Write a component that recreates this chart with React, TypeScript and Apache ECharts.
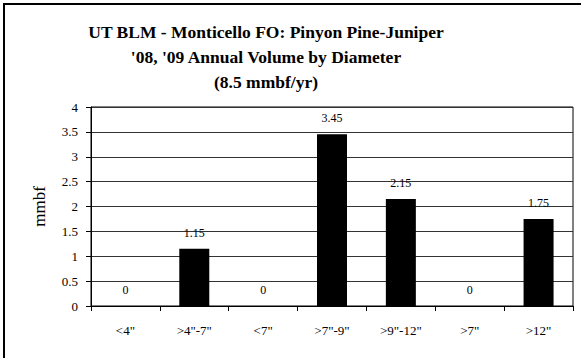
import React, { useEffect, useRef } from "react";
import * as echarts from "echarts";

const categories = ['<4"', '>4"-7"', '<7"', '>7"-9"', '>9"-12"', '>7"', '>12"'];
const volumes = [0, 1.15, 0, 3.45, 2.15, 0, 1.75];
const titleLines = [
  "UT BLM - Monticello FO: Pinyon Pine-Juniper",
  "'08, '09 Annual Volume by Diameter",
  "(8.5 mmbf/yr)",
];
const yAxisName = "mmbf";

const FONT = "'Liberation Serif', 'Times New Roman', serif";

export default function App() {
  const ref = useRef<HTMLDivElement>(null);
  useEffect(() => {
    if (!ref.current) return;
    const chart = echarts.init(ref.current, undefined, { renderer: "svg" });
    chart.setOption({
      animation: false,
      backgroundColor: "#ffffff",
      title: {
        text: titleLines.join("\n"),
        left: 261,
        top: 14,
        textAlign: "center",
        textStyle: {
          fontFamily: FONT,
          fontWeight: "bold",
          fontSize: 17.5,
          lineHeight: 25,
          color: "#000",
        },
      },
      graphic: [
        {
          type: "rect",
          shape: { x: 4, y: 4, width: 700, height: 500 },
          style: { fill: "none", stroke: "#000", lineWidth: 2 },
          silent: true,
        },
      ],
      grid: {
        left: 91,
        right: 8,
        top: 107,
        bottom: 52,
        show: true,
        borderColor: "#000",
        borderWidth: 1,
      },
      xAxis: {
        type: "category",
        data: categories,
        axisLine: { lineStyle: { color: "#000", width: 1 } },
        axisTick: { show: true, length: 5, lineStyle: { color: "#000" } },
        axisLabel: {
          color: "#000",
          fontFamily: FONT,
          fontSize: 13,
          margin: 18,
        },
      },
      yAxis: {
        type: "value",
        min: 0,
        max: 4,
        interval: 0.5,
        name: yAxisName,
        nameLocation: "middle",
        nameGap: 43,
        nameRotate: 90,
        nameTextStyle: { fontFamily: FONT, fontSize: 17, color: "#000" },
        axisLine: { show: true, lineStyle: { color: "#000", width: 1 } },
        axisTick: { show: true, length: 5, lineStyle: { color: "#000" } },
        axisLabel: { color: "#000", fontFamily: FONT, fontSize: 13, margin: 13 },
        splitLine: { show: true, lineStyle: { color: "#333", width: 1 } },
      },
      series: [
        {
          type: "bar",
          data: volumes,
          barWidth: 30,
          itemStyle: { color: "#000" },
          label: {
            show: true,
            position: "top",
            distance: 10,
            color: "#000",
            fontFamily: FONT,
            fontSize: 12,
          },
        },
      ],
    });
    return () => chart.dispose();
  }, []);
  return (
    <div
      ref={ref}
      style={{ position: "fixed", left: 0, top: 0, width: 581, height: 358 }}
    />
  );
}
